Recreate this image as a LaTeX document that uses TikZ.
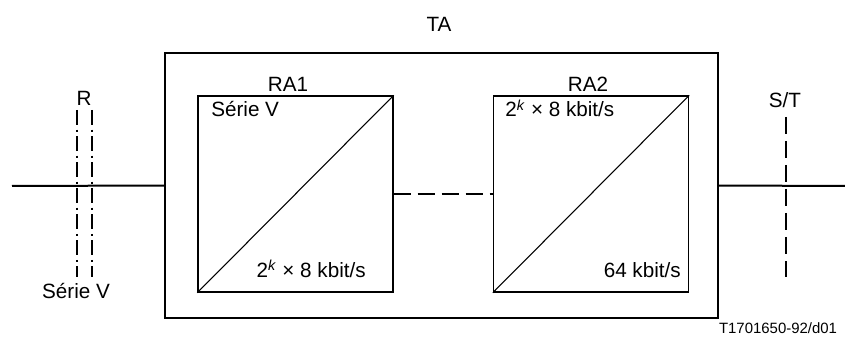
\documentclass[tikz,border=0pt]{standalone}
\usepackage{fontspec}
\setmainfont{Liberation Sans}
\usetikzlibrary{positioning, calc}
\tikzset{
    tabox/.style = {rectangle, draw, line width=1pt, inner sep=0pt, minimum width=414.75pt, minimum height=198.75pt},
    rabox/.style = {rectangle, draw, line width=1pt, inner sep=0pt, minimum width=146.25pt, minimum height=147pt},
    label/.style = {inner sep=0pt, font=\fontsize{15.5}{18}\selectfont},
    line/.style = {draw, line width=1.5pt},
    diag/.style = {draw, line width=0.8pt},
    dashedline/.style = {draw, line width=1.4pt, dash pattern=on 12.75pt off 5.25pt},
    dashdotline/.style = {draw, line width=1.4pt, dash pattern=on 11.25pt off 3.4pt on 1.5pt off 3.4pt}
}
\newcommand{\kbit}{2\textsuperscript{\textit{k}} × 8 kbit/s}

\begin{document}
\begin{tikzpicture}[x=0.75pt, y=-0.75pt]
        \useasboundingbox (0,0) rectangle (845,338);

        % Terminal adapter
        \node [tabox] (ta) at (441.5,185.5) {};
        \node [label] (talabel) at (439,24) {TA};

        % Rate adaption RA1
        \node [rabox] (ra1) at (295.5,194) {};
        \node [label] (ra1label) at (288,84) {RA1};
        \node [label, anchor=base west] (ra1in) at (211,117) {Série V};
        \node [label, anchor=base east] (ra1out) at (366,277) {\kbit};

        % Rate adaption RA2
        \node [rabox] (ra2) at (591,194) {};
        \node [label] (ra2label) at (588,84) {RA2};
        \node [label, anchor=base west] (ra2in) at (505,117) {\kbit};
        \node [label, anchor=base east] (ra2out) at (681,277) {64 kbit/s};

        % Reference point R
        \coordinate (rl1) at (77,110);
        \coordinate (rl2) at (77,277);
        \coordinate (rr1) at (92,110);
        \coordinate (rr2) at (92,277);
        \node [label] (r) at (84,98) {R};
        \node [label] (serie) at (76,291) {Série V};

        % Reference point S/T
        \coordinate (st1) at (786,117);
        \coordinate (st2) at (786,277);
        \node [label] (st) at (785,100) {S/T};

        % Line ends
        \coordinate (left) at (12,186);
        \coordinate (right) at (845,186);

        \node [inner sep=0pt, font=\fontsize{11.2}{13}\selectfont] (ref) at (778,328) {T1701650-92/d01};

        % Lines
        \path [diag] (ra1.south west) -- (ra1.north east);
        \path [diag] (ra2.south west) -- (ra2.north east);
        \path [dashedline] (ra1.east) -- (ra2.west);
        \path [line] (left) -- (ta.west);
        \path [line] (ta.east) -- (right);
        \path [dashdotline] (rl1) -- (rl2);
        \path [dashdotline] (rr1) -- (rr2);
        \path [dashedline] (st1) -- (st2);

    \end{tikzpicture}
\end{document}
